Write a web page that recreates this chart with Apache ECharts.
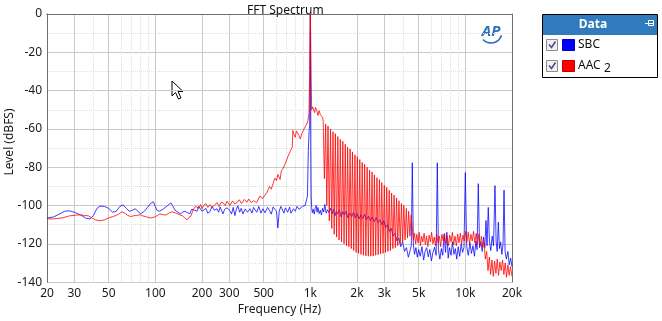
<!DOCTYPE html>
<html><head><meta charset="utf-8">
<script src="https://cdn.jsdelivr.net/npm/echarts@6/dist/echarts.min.js"></script>
<style>html,body{margin:0;padding:0;background:#fff}#c{width:662px;height:321px}</style>
</head><body><div id="c"></div>
<script>
// ---- axis ticks ----
const xLabelHz = [20,30,50,100,200,300,500,1000,2000,3000,5000,10000,20000];
const xMinorHz = [40,60,70,80,90,400,600,700,800,900,4000,6000,7000,8000,9000];
const yMin = -140, yMax = 0, yStep = 20;
const seriesNames = ['SBC', 'AAC 2'];
const seriesColors = ['rgba(0,0,255,0.76)', 'rgba(255,0,0,0.78)'];
const legendColors = ['#0000ff', '#ff0000'];

// ---- SBC spectrum [Hz, dBFS] ----
const sbcSpectrum = [
[20,-106.5],[22,-106],[24,-104.5],[26,-103],[28,-102.8],[30,-103.5],[33,-105],[36,-106.8],[38,-107],[40,-105],
[42,-101.5],[44,-100.3],[47,-100.5],[50,-101.5],[53,-103.5],[56,-103],[59,-100.5],[62,-99.7],[65,-101.5],[68,-103],
[71,-102.5],[74,-101.7],[77,-102.8],[80,-104.4],[85,-103],[89,-101],[93,-99],[97,-98],[100,-100.5],[102,-102.4],
[106,-103],[109,-103.2],[112,-102],[115,-101.4],[120,-100],[126,-98.6],[130,-100.5],[134,-102.4],[140,-103.5],[145,-104.4],
[150,-103.5],[155,-103],[160,-103.6],[167,-104.4],[171,-102],[175,-101.4],[180,-102.5],[186,-103],[190,-100.5],[195,-101.7],
[200,-103],[205,-103.5],[212,-101.5],[218,-104],[225,-103.2],[232,-100.5],[240,-102.5],[250,-101.7],[256,-103.5],[262,-100.8],
[273,-104.4],[280,-102],[290,-101.2],[303,-102.7],[310,-104.5],[318,-101],[326,-105.3],[333,-102],[341,-100.2],[350,-103.5],
[358,-101.5],[367,-104.4],[380,-101.8],[393,-103.5],[408,-101.7],[420,-104],[430,-101],[451,-103.5],[465,-100.5],[480,-104],
[494,-101.7],[510,-103.8],[530,-101],[546,-102.7],[560,-104.5],[575,-100.8],[590,-101.7],[605,-103],[617,-111.7],[630,-103],
[645,-100.5],[656,-101.7],[675,-104],[690,-101.2],[714,-103.5],[735,-100.8],[750,-104],[779,-101.7],[800,-103],[820,-100.5],
[845,-102],[862,-102.7],[890,-100.5],[926,-100],[945,-99],[958,-95],[970,-72],[982,-61],[990,-58],[995,-30],
[1000,0],[1004,-30],[1008,-70],[1013,-95],[1020,-101],[1030,-103.8],[1045,-102],[1060,-104.5],[1075,-101.3],[1090,-100],
[1105,-103.5],[1120,-101],[1140,-104.2],[1160,-102.5],[1180,-105],[1200,-101.5],[1220,-103.4],[1240,-99.5],[1265,-104],[1290,-102.2],
[1320,-103.8],[1350,-101.5],[1380,-104.5],[1410,-102],[1440,-105.5],[1470,-103],[1500,-104.5],[1540,-102.2],[1580,-106],[1620,-103.2],
[1660,-105],[1700,-103],[1750,-106.5],[1800,-104],[1850,-105.8],[1900,-103.5],[1950,-106.5],[2000,-104.2],[2060,-107],[2120,-105],
[2180,-106.8],[2240,-104.6],[2300,-107.5],[2370,-105.5],[2440,-108],[2510,-106],[2580,-108.5],[2660,-106.3],[2740,-109],[2820,-107.5],
[2900,-110],[2980,-108],[3060,-111.5],[3150,-110],[3240,-113.5],[3330,-112],[3420,-116],[3520,-114.5],[3620,-118.5],[3720,-117],
[3830,-121.5],[3940,-119],[4050,-124],[4170,-122],[4290,-127],[4400,-123.5],[4480,-121],[4548,-77.7],[4620,-120.5],[4700,-125.5],
[4800,-122],[4900,-127],[5000,-123],[5120,-126.5],[5250,-121.5],[5380,-128.5],[5500,-124],[5630,-122],[5770,-126.8],[5900,-123],
[6040,-129],[6180,-124.5],[6330,-121.8],[6480,-126],[6594,-77.7],[6700,-123],[6850,-128],[7000,-122.5],[7150,-126],[7300,-115],
[7450,-124.5],[7600,-114],[7750,-127.5],[7900,-122],[8080,-126],[8260,-119],[8440,-125.5],[8620,-122.5],[8800,-128],[9000,-121.5],
[9200,-126.5],[9400,-120],[9600,-124.5],[9800,-122],[10000,-82.8],[10200,-121.5],[10450,-126],[10700,-119.5],[10950,-125],[11200,-121],
[11450,-126.5],[11700,-118.5],[11900,-123],[12120,-88.6],[12350,-122],[12600,-119],[12850,-124],[13100,-116.5],[13350,-122],[13590,-107.8],
[13800,-121],[14060,-101],[14300,-118.5],[14600,-123.5],[14900,-116],[15200,-121],[15530,-89.6],[15800,-119],[16050,-124],[16330,-108.7],
[16600,-122.5],[16900,-119],[17200,-125.5],[17500,-120.5],[17770,-92],[18050,-124],[18400,-128],[18800,-124],[19200,-131],[19600,-127.5],
[20000,-132]
];

// ---- AAC 2 spectrum [Hz, dBFS] ----
const aacSpectrum = [
[20,-107],[22,-107],[25,-106.5],[28,-105.4],[31,-105],[33,-104.9],[35,-105.2],[37,-105.4],[39,-106.5],[41,-107.5],
[44,-108],[47,-107.5],[50,-106.5],[53,-105.8],[55,-105.4],[58,-104.5],[61,-103.3],[64,-104.2],[66,-105],[69,-105.8],
[71,-106],[74,-105.2],[76,-104.4],[80,-104.9],[83,-105.4],[88,-106],[93,-106.5],[99,-106],[103,-105.2],[107,-104.4],
[112,-104.8],[117,-105],[122,-104],[128,-103.3],[134,-103.8],[140,-104.4],[145,-105],[150,-105.4],[155,-106.5],[160,-107.5],
[165,-106.2],[170,-105.4],[174,-103],[177,-101.7],[182,-100.5],[186,-100],[191,-101.5],[196,-99.5],[200,-101.7],[205,-100],
[212,-99],[218,-101],[225,-99.5],[232,-101],[240,-100],[250,-98.5],[258,-100.5],[265,-98.5],[273,-98.5],[282,-100],
[290,-97.8],[303,-100],[315,-97.6],[326,-99.2],[336,-98.5],[348,-97],[360,-99],[375,-96.8],[390,-98.3],[400,-96.6],
[415,-98.5],[430,-97.5],[450,-98.5],[473,-95],[490,-96.5],[500,-95.9],[524,-93.3],[546,-90],[560,-91.5],[575,-88.5],
[590,-85.7],[605,-87],[617,-83.8],[638,-86.4],[650,-82],[667,-80.6],[690,-78],[715,-74.6],[740,-72],[764,-69.5],
[771,-60.8],[785,-63],[800,-64.4],[812,-61],[826,-61.8],[845,-63.5],[862,-65.3],[880,-62.5],[900,-60.8],[925,-59],
[948,-57.6],[965,-55.7],[980,-52],[990,-30],[995,-10],[1000,0],[1005,-12],[1012,-35],[1020,-50],[1035,-48.5],
[1050,-49],[1065,-51.5],[1080,-48.8],[1103,-50.7],[1120,-53],[1140,-50.5],[1160,-52.5],[1180,-51.5],[1200,-54],
[1210,-56],[1232,-86],[1255,-57.5],[1277,-100],[1300,-58.5],[1325,-108],[1350,-60],[1375,-112],[1400,-61.5],[1425,-115],
[1450,-62.5],[1477,-116.5],[1505,-64],[1532,-118],[1560,-65.5],[1590,-119],[1620,-66.5],[1650,-120],[1680,-68],[1710,-121],
[1740,-69.5],[1772,-121.5],[1805,-70.5],[1837,-122.5],[1870,-72],[1905,-123.5],[1940,-73.5],[1975,-124.5],[2010,-74.5],[2047,-125],
[2085,-76],[2122,-125.5],[2160,-77.5],[2200,-126],[2240,-78.5],[2282,-126.3],[2325,-80],[2367,-126.5],[2410,-81.5],[2455,-126.5],
[2500,-82.5],[2545,-126.3],[2590,-84],[2640,-126],[2690,-85.5],[2740,-125.7],[2790,-86.5],[2840,-125.3],[2890,-88],[2945,-125],
[3000,-89.5],[3055,-124.5],[3110,-90.5],[3167,-124],[3225,-92],[3285,-123.5],[3345,-93.5],[3407,-122.5],[3470,-94.5],[3535,-122],
[3600,-96],[3665,-121],[3730,-97.5],[3800,-120],[3870,-99],[3940,-119],[4010,-100],[4085,-118],[4160,-101.5],[4235,-117],
[4310,-103],[4390,-116],[4470,-105],[4550,-112],[4620,-118],[4700,-114.5],[4780,-120],[4860,-115],[4950,-119.5],[5040,-114],
[5130,-121],[5220,-116],[5320,-119],[5420,-114.5],[5520,-120.5],[5620,-116],[5730,-121.5],[5840,-115.5],[5950,-119],[6060,-114],
[6180,-120],[6300,-116.5],[6420,-121],[6540,-115],[6670,-119.5],[6800,-116],[6930,-121.5],[7060,-115],[7200,-118.5],[7340,-114.5],
[7480,-120],[7630,-116],[7780,-121],[7930,-115.5],[8090,-119],[8250,-114],[8410,-120.5],[8580,-116],[8750,-121],[8920,-115],
[9100,-119.5],[9280,-114.5],[9460,-120],[9650,-115.5],[9840,-118.5],[10040,-113.5],[10240,-119],[10440,-114],[10650,-120],[10860,-115],
[11080,-118.5],[11300,-113.5],[11520,-119.5],[11750,-114.5],[11980,-120.5],[12220,-115],[12460,-121],[12700,-116],[12950,-122],[13200,-119],
[13460,-128],[13730,-124],[14000,-134],[14280,-127],[14560,-136],[14850,-128.5],[15140,-137],[15440,-129],[15750,-135.5],[16060,-128],
[16380,-136.5],[16700,-129.5],[17040,-134],[17380,-128.5],[17720,-136],[18070,-130],[18430,-137.5],[18800,-131],[19170,-136.5],[19550,-132],
[20000,-137]
];

const FONT = 'Noto Sans';
const lg = v => Math.log10(v);
const fmtHz = v => { const hz = Math.round(Math.pow(10, v)); return hz >= 1000 ? (hz/1000) + 'k' : String(hz); };
const xMinL = lg(xLabelHz[0]), xMaxL = lg(xLabelHz[xLabelHz.length-1]);

const chart = echarts.init(document.getElementById('c'), null, {renderer:'canvas'});
const frame = '#707070';
chart.setOption({
  animation: false,
  backgroundColor: '#fff',
  title: { text: 'FFT Spectrum', left: 242, top: 0, textStyle: { fontFamily: FONT, fontSize: 12, fontWeight: 'normal', color: '#111' } },
  grid: { left: 47, right: 150, top: 14, bottom: 33, containLabel: false },
  xAxis: [
    { type: 'log', logBase: 10, min: xLabelHz[0], max: xLabelHz[xLabelHz.length-1], show: false },
    { type: 'value', min: xMinL, max: xMaxL, position: 'bottom',
      axisLine: { show: true, lineStyle: { color: frame } },
      axisTick: { show: false, customValues: xLabelHz.map(lg) },
      axisLabel: { customValues: xLabelHz.map(lg), formatter: fmtHz, margin: 5, fontFamily: FONT, fontSize: 12, color: '#1a1a1a', showMinLabel: true, showMaxLabel: true },
      splitLine: { show: true, lineStyle: { color: '#cacaca', width: 1 } },
      name: 'Frequency (Hz)', nameLocation: 'middle', nameGap: 18,
      nameTextStyle: { fontFamily: FONT, fontSize: 12, color: '#1a1a1a' } },
    { type: 'value', min: xMinL, max: xMaxL, position: 'top',
      axisLine: { show: true, lineStyle: { color: frame } },
      axisTick: { show: false, customValues: xMinorHz.map(lg) },
      axisLabel: { show: false },
      splitLine: { show: true, lineStyle: { color: '#e0e0e0', type: 'dotted', width: 1 } } }
  ],
  yAxis: [
    { type: 'value', min: yMin, max: yMax, interval: yStep,
      axisLine: { show: true, lineStyle: { color: frame } },
      axisTick: { show: false },
      axisLabel: { margin: 5, fontFamily: FONT, fontSize: 12, color: '#1a1a1a' },
      splitLine: { show: true, lineStyle: { color: '#cacaca', width: 1 } },
      minorTick: { show: false, splitNumber: 2 },
      minorSplitLine: { show: true, lineStyle: { color: '#e0e0e0', type: 'dotted', width: 1 } } },
    { type: 'value', min: yMin, max: yMax, interval: yStep, position: 'right',
      axisLine: { show: true, lineStyle: { color: frame } },
      axisTick: { show: false }, axisLabel: { show: false }, splitLine: { show: false } }
  ],
  series: [
    { name: seriesNames[0], type: 'line', xAxisIndex: 0, yAxisIndex: 0, data: sbcSpectrum,
      showSymbol: false, symbol: 'none', lineStyle: { width: 1, color: seriesColors[0] }, z: 3 },
    { name: seriesNames[1], type: 'line', xAxisIndex: 0, yAxisIndex: 0, data: aacSpectrum,
      showSymbol: false, symbol: 'none', lineStyle: { width: 1, color: seriesColors[1] }, z: 4 }
  ],
  graphic: [
    { type: 'text', x: 10, y: 142, rotation: Math.PI/2,
      style: { text: 'Level (dBFS)', fill: '#1a1a1a', font: '12px "Noto Sans"', align: 'center', verticalAlign: 'middle' } },
    // AP logo
    { type: 'text', x: 491, y: 32,
      style: { text: 'AP', fill: '#2f6fb8', font: 'italic bold 15px "Noto Sans"', align: 'center', verticalAlign: 'middle' } },
    { type: 'arc', shape: { cx: 491, cy: 32, r: 11, startAngle: 0.3, endAngle: 2.4 }, style: { stroke: '#2f6fb8', lineWidth: 1.5, fill: null } },
    // cursor
    { type: 'polygon', shape: { points: [[172,81],[172,96],[175.5,92.5],[178.5,99],[181,98],[178,91.5],[183,91.5]] },
      style: { fill: '#fff', stroke: '#000', lineWidth: 1 } },
    // legend box
    { type: 'rect', shape: { x: 542.5, y: 14.5, width: 115, height: 63 }, style: { fill: '#fff', stroke: '#000', lineWidth: 1 } },
    { type: 'rect', shape: { x: 543, y: 15, width: 114, height: 20 }, style: { fill: '#2f7bbd' } },
    { type: 'text', x: 593, y: 25, style: { text: 'Data', fill: '#fff', font: 'bold 12px "Noto Sans"', align: 'center', verticalAlign: 'middle' } },
    { type: 'line', shape: { x1: 645, y1: 23.5, x2: 654, y2: 23.5 }, style: { stroke: '#fff', lineWidth: 1 } },
    { type: 'rect', shape: { x: 648.5, y: 20.5, width: 5, height: 5 }, style: { fill: null, stroke: '#fff', lineWidth: 1 } },
    // row 1
    { type: 'rect', shape: { x: 546.5, y: 39.5, width: 11, height: 11 }, style: { fill: '#f0f0f0', stroke: '#8c8c8c', lineWidth: 1 } },
    { type: 'polyline', shape: { points: [[549,44.5],[551.5,47.5],[555.5,41.5]] }, style: { stroke: '#3c4c8c', lineWidth: 1.5, fill: null } },
    { type: 'rect', shape: { x: 562.5, y: 39.5, width: 12, height: 11 }, style: { fill: legendColors[0], stroke: '#0000c0', lineWidth: 1 } },
    { type: 'text', x: 578, y: 45, style: { text: seriesNames[0], fill: '#111', font: '12px "Noto Sans"', verticalAlign: 'middle' } },
    // row 2
    { type: 'rect', shape: { x: 546.5, y: 60.5, width: 11, height: 11 }, style: { fill: '#f0f0f0', stroke: '#8c8c8c', lineWidth: 1 } },
    { type: 'polyline', shape: { points: [[549,65.5],[551.5,68.5],[555.5,62.5]] }, style: { stroke: '#3c4c8c', lineWidth: 1.5, fill: null } },
    { type: 'rect', shape: { x: 562.5, y: 60.5, width: 12, height: 11 }, style: { fill: legendColors[1], stroke: '#c00000', lineWidth: 1 } },
    { type: 'text', x: 578, y: 66, style: { text: 'AAC', fill: '#111', font: '12px "Noto Sans"', verticalAlign: 'middle' } },
    { type: 'text', x: 604, y: 69, style: { text: '2', fill: '#111', font: '12px "Noto Sans"', verticalAlign: 'middle' } }
  ]
});
</script>
</body></html>
